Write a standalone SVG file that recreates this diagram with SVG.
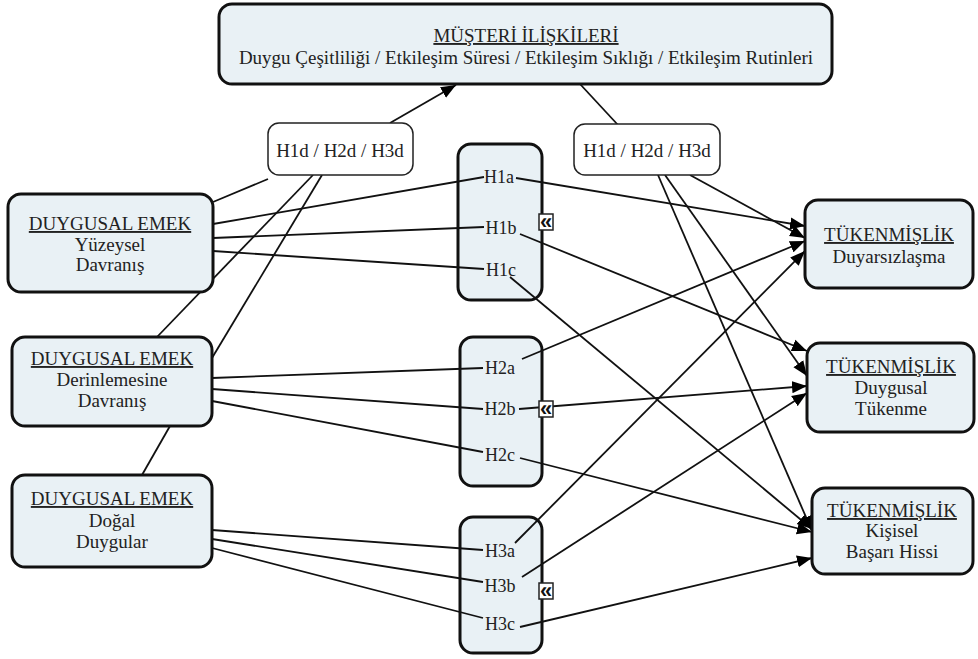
<svg xmlns="http://www.w3.org/2000/svg" width="978" height="659" viewBox="0 0 978 659">
<style>
.box{fill:#e9f1f5;stroke:#111;stroke-width:3}
.lbox{fill:#fff;stroke:#222;stroke-width:1.5}
.t{font-family:"Liberation Serif","Times New Roman",serif;font-size:19px;fill:#222;text-anchor:middle}
.h{font-family:"Liberation Serif","Times New Roman",serif;font-size:18px;fill:#222;text-anchor:middle}
.u{text-decoration:underline}
.c line{stroke:#111;stroke-width:1.8}
.a{marker-end:url(#ah)}
.ic rect{fill:#fff;stroke:#222;stroke-width:1.5}
.ic text{font-family:"Liberation Sans",Arial,sans-serif;font-size:22px;font-weight:bold;fill:#111;text-anchor:middle}
</style>
<defs>
<marker id="ah" markerUnits="userSpaceOnUse" markerWidth="16" markerHeight="13" refX="15" refY="6.5" orient="auto">
<path d="M0,0.5 L15,6.5 L0,12.5 z" fill="#000"/>
</marker>
</defs>
<rect width="978" height="659" fill="#fff"/>

<g id="node-h1">
<rect class="box" x="458" y="144" width="84" height="156" rx="13"/>
<text class="h" x="499" y="183">H1a</text>
<text class="h" x="501" y="234">H1b</text>
<text class="h" x="501" y="276">H1c</text>
</g>
<g id="node-h2">
<rect class="box" x="460" y="337" width="82" height="149" rx="13"/>
<text class="h" x="500" y="374">H2a</text>
<text class="h" x="500" y="415">H2b</text>
<text class="h" x="500" y="461">H2c</text>
</g>
<g id="node-h3">
<rect class="box" x="460" y="517" width="82" height="136" rx="13"/>
<text class="h" x="500" y="557">H3a</text>
<text class="h" x="500" y="592">H3b</text>
<text class="h" x="500" y="630">H3c</text>
</g>

<g id="connectors" class="c">
<line x1="213" y1="224" x2="484" y2="177"/>
<line x1="213" y1="238" x2="484" y2="227"/>
<line x1="213" y1="251" x2="484" y2="269"/>
<line x1="212" y1="378" x2="483" y2="368"/>
<line x1="212" y1="389" x2="483" y2="409"/>
<line x1="212" y1="401" x2="483" y2="452"/>
<line x1="212" y1="530" x2="483" y2="550"/>
<line x1="212" y1="539" x2="483" y2="582"/>
<line x1="212" y1="548" x2="483" y2="618"/>
<line class="a" x1="516" y1="178" x2="805" y2="226"/>
<line class="a" x1="690" y1="175" x2="805" y2="238"/>
<line class="a" x1="522" y1="359" x2="805" y2="241"/>
<line class="a" x1="515" y1="543" x2="805" y2="251"/>
<line class="a" x1="520" y1="234" x2="807" y2="351"/>
<line class="a" x1="665" y1="175" x2="807" y2="376"/>
<line class="a" x1="519" y1="409" x2="807" y2="386"/>
<line class="a" x1="522" y1="577" x2="807" y2="393"/>
<line class="a" x1="510" y1="277" x2="812" y2="529"/>
<line class="a" x1="658" y1="175" x2="812" y2="531"/>
<line class="a" x1="520" y1="458" x2="812" y2="532"/>
<line class="a" x1="520" y1="627" x2="812" y2="558"/>
<line class="a" x1="390" y1="123" x2="456" y2="85"/>
<line x1="580" y1="84" x2="618" y2="125"/>
<line x1="268" y1="179" x2="213" y2="202"/>
<line x1="313" y1="175" x2="157" y2="337"/>
<line x1="322" y1="175" x2="212" y2="358"/>
<line x1="170" y1="426" x2="142" y2="475"/>
</g>

<g id="icons" class="ic">
<rect x="539" y="214" width="14" height="16"/><text x="546" y="229">«</text>
<rect x="539" y="401" width="14" height="16"/><text x="546" y="416">«</text>
<rect x="539" y="583" width="14" height="16"/><text x="546" y="598">«</text>
</g>

<g id="node-musteri">
<rect class="box" x="219" y="4" width="613" height="80" rx="13"/>
<text class="t u" x="526" y="42">MÜŞTERİ İLİŞKİLERİ</text>
<text class="t" x="526" y="64">Duygu Çeşitliliği / Etkileşim Süresi / Etkileşim Sıklığı / Etkileşim Rutinleri</text>
</g>
<g id="node-hd-left">
<rect class="lbox" x="268" y="123" width="145" height="52" rx="11"/>
<text class="t" x="340" y="157">H1d / H2d / H3d</text>
</g>
<g id="node-hd-right">
<rect class="lbox" x="574" y="124" width="146" height="51" rx="11"/>
<text class="t" x="647" y="157">H1d / H2d / H3d</text>
</g>
<g id="node-yuzeysel">
<rect class="box" x="8" y="194" width="205" height="98" rx="13"/>
<text class="t u" x="110" y="230">DUYGUSAL EMEK</text>
<text class="t" x="110" y="251">Yüzeysel</text>
<text class="t" x="110" y="271">Davranış</text>
</g>
<g id="node-derinlemesine">
<rect class="box" x="12" y="337" width="200" height="89" rx="13"/>
<text class="t u" x="112" y="365">DUYGUSAL EMEK</text>
<text class="t" x="112" y="386">Derinlemesine</text>
<text class="t" x="112" y="407">Davranış</text>
</g>
<g id="node-dogal">
<rect class="box" x="12" y="475" width="200" height="92" rx="13"/>
<text class="t u" x="112" y="505">DUYGUSAL EMEK</text>
<text class="t" x="112" y="527">Doğal</text>
<text class="t" x="112" y="548">Duygular</text>
</g>
<g id="node-duyarsizlasma">
<rect class="box" x="805" y="200" width="168" height="88" rx="13"/>
<text class="t u" x="889" y="241">TÜKENMİŞLİK</text>
<text class="t" x="889" y="263">Duyarsızlaşma</text>
</g>
<g id="node-tukenme">
<rect class="box" x="807" y="343" width="167" height="89" rx="13"/>
<text class="t u" x="891" y="373">TÜKENMİŞLİK</text>
<text class="t" x="891" y="394">Duygusal</text>
<text class="t" x="891" y="415">Tükenme</text>
</g>
<g id="node-kisisel">
<rect class="box" x="812" y="488" width="161" height="86" rx="13"/>
<text class="t u" x="892" y="517">TÜKENMİŞLİK</text>
<text class="t" x="892" y="537">Kişisel</text>
<text class="t" x="892" y="558">Başarı Hissi</text>
</g>
</svg>
